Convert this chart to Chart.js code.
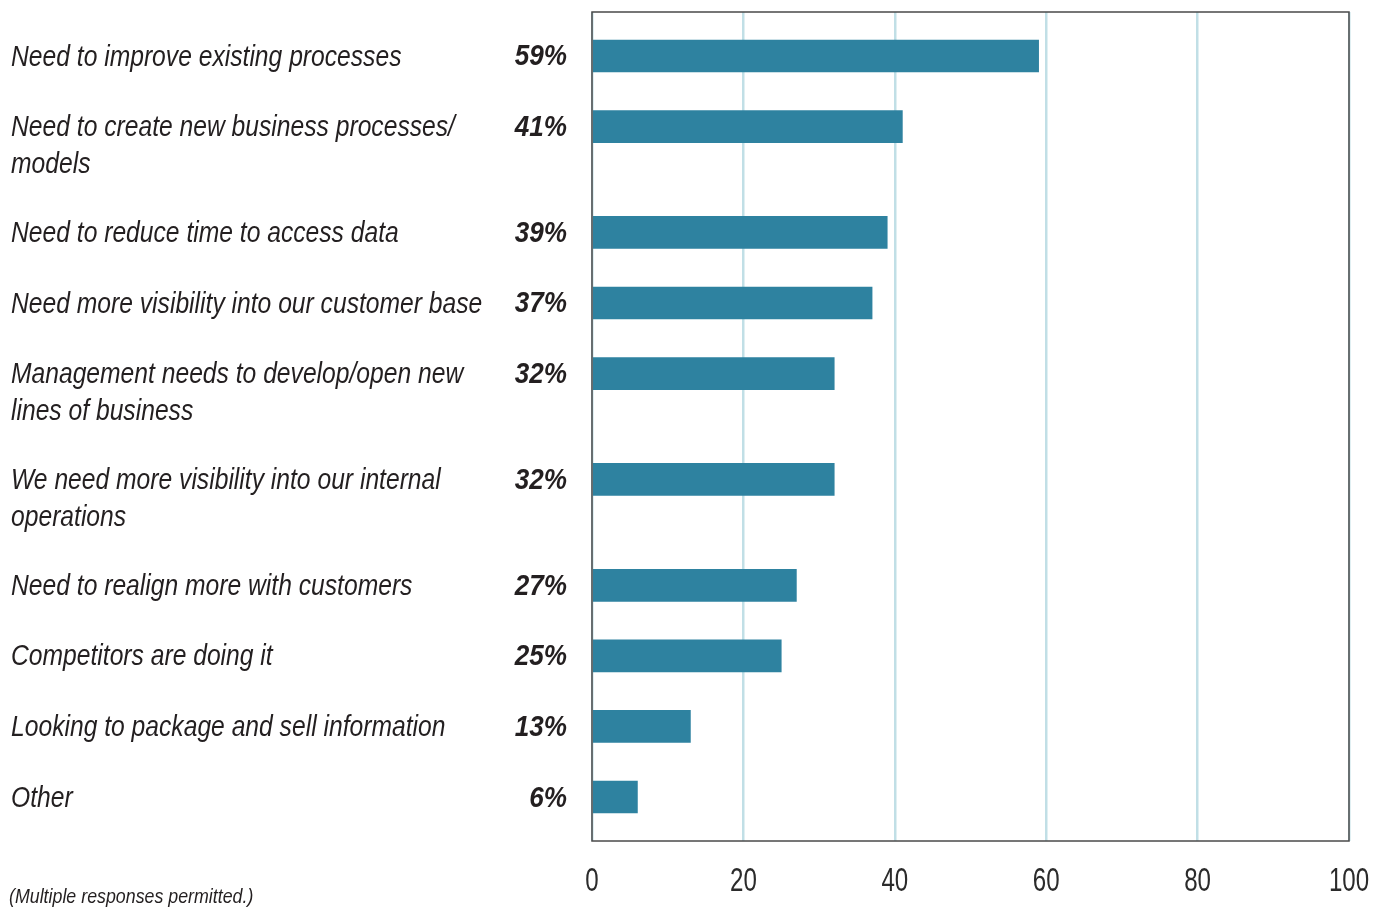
<!DOCTYPE html>
<html>
<head>
<meta charset="utf-8">
<script src="https://cdn.jsdelivr.net/npm/chart.js@4.4.1/dist/chart.umd.min.js"></script>
<style>
  html, body { margin: 0; padding: 0; background: #fff; }
  #wrap { position: relative; width: 1387px; height: 909px; }
</style>
</head>
<body>
<div id="wrap"><canvas id="drivers"></canvas></div>
<script>
// categorias (cada item = linhas do rótulo)
const categories = [
  ['Need to improve existing processes'],
  ['Need to create new business processes/', 'models'],
  ['Need to reduce time to access data'],
  ['Need more visibility into our customer base'],
  ['Management needs to develop/open new', 'lines of business'],
  ['We need more visibility into our internal', 'operations'],
  ['Need to realign more with customers'],
  ['Competitors are doing it'],
  ['Looking to package and sell information'],
  ['Other']
];
const percentValues = [59, 41, 39, 37, 32, 32, 27, 25, 13, 6];
const xTicks = [0, 20, 40, 60, 80, 100];
const footnote = '(Multiple responses permitted.)';

const FONT = '"Liberation Sans", Arial, sans-serif';
const TEXT_COLOR = '#231f20';
const BAR_COLOR = '#2e82a0';
const GRID_COLOR = '#c1dfe6';
const FRAME_COLOR = '#4a4a4a';
const LINE_HEIGHT = 37;

// posição de cada linha no eixo: rótulos de duas linhas ocupam 1.5 unidades
const rowPositions = [];
let pos = 0;
categories.forEach((lines) => {
  rowPositions.push(pos);
  pos += lines.length > 1 ? 1.5 : 1;
});

const data = {
  datasets: [{
    data: percentValues.map((v, i) => ({ x: v, y: rowPositions[i] })),
    backgroundColor: BAR_COLOR,
    barThickness: 32,
    borderWidth: 0
  }]
};

// texto comprimido na horizontal (simula fonte condensada)
function drawCondensed(ctx, text, x, y, align, factor) {
  ctx.save();
  ctx.translate(x, y);
  ctx.scale(factor, 1);
  ctx.textAlign = align;
  ctx.fillText(text, 0, 0);
  ctx.restore();
}

// rótulos à esquerda, valores em negrito, ticks, moldura e nota de rodapé
const labelsPlugin = {
  id: 'labelsPlugin',
  afterDraw(chart) {
    const ctx = chart.ctx;
    const xScale = chart.scales.x;
    const yScale = chart.scales.y;
    const area = chart.chartArea;
    ctx.save();
    ctx.fillStyle = TEXT_COLOR;
    ctx.textBaseline = 'middle';

    categories.forEach((lines, i) => {
      const y = yScale.getPixelForValue(rowPositions[i]) + 1.5;
      ctx.font = 'italic 29px ' + FONT;
      lines.forEach((line, j) => {
        drawCondensed(ctx, line, 11, y + j * LINE_HEIGHT, 'left', 0.85);
      });
      ctx.font = 'italic bold 29px ' + FONT;
      drawCondensed(ctx, percentValues[i] + '%', 567, y, 'right', 0.9);
    });

    // ticks do eixo x
    ctx.font = '33px ' + FONT;
    ctx.fillStyle = '#2b2b2b';
    xScale.ticks.forEach((t) => {
      drawCondensed(ctx, String(t.value), xScale.getPixelForValue(t.value), 882, 'center', 0.73);
    });

    ctx.fillStyle = TEXT_COLOR;
    ctx.font = 'italic 20px ' + FONT;
    drawCondensed(ctx, footnote, 9, 897, 'left', 0.89);

    ctx.strokeStyle = FRAME_COLOR;
    ctx.lineWidth = 1.5;
    ctx.strokeRect(area.left, area.top, area.right - area.left, area.bottom - area.top);
    ctx.restore();
  }
};

new Chart(document.getElementById('drivers'), {
  type: 'bar',
  data: data,
  plugins: [labelsPlugin],
  options: {
    indexAxis: 'y',
    responsive: true,
    maintainAspectRatio: false,
    animation: false,
    layout: { padding: { left: 592, top: 12, right: 38, bottom: 68 } },
    plugins: { legend: { display: false }, tooltip: { enabled: false } },
    scales: {
      x: {
        type: 'linear',
        min: 0,
        max: 100,
        afterBuildTicks: (axis) => { axis.ticks = xTicks.map((v) => ({ value: v })); },
        grid: { color: GRID_COLOR, lineWidth: 2.5, drawTicks: false },
        border: { display: false },
        ticks: { display: false }
      },
      y: {
        type: 'linear',
        reverse: true,
        offset: false,
        min: -0.623,
        max: 11.123,
        display: false
      }
    }
  }
});
</script>
</body>
</html>
